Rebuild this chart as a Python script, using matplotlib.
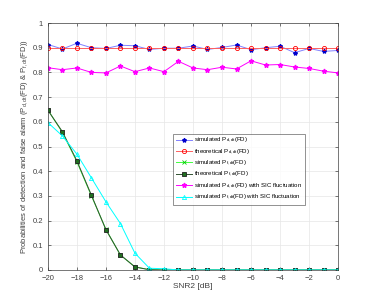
import numpy as np
import matplotlib
matplotlib.use('Agg')
import matplotlib.pyplot as plt

snr = np.arange(-20, 1, 1)

pd_sim = [0.913, 0.895, 0.918, 0.900, 0.897, 0.910, 0.908, 0.893, 0.898, 0.898, 0.907,
          0.893, 0.901, 0.911, 0.892, 0.900, 0.906, 0.880, 0.897, 0.885, 0.889]
pd_theo = [0.9] * 21
pf_sim = [0.648, 0.557, 0.438, 0.300, 0.165, 0.060, 0.013, 0.001, 0, 0, 0,
          0, 0, 0, 0, 0, 0, 0, 0, 0, 0]
pf_theo = [0.647, 0.560, 0.442, 0.303, 0.163, 0.061, 0.012, 0.001, 0, 0, 0,
           0, 0, 0, 0, 0, 0, 0, 0, 0, 0]
pd_sic = [0.819, 0.811, 0.818, 0.800, 0.798, 0.826, 0.803, 0.818, 0.803, 0.845, 0.818,
          0.811, 0.821, 0.814, 0.847, 0.830, 0.832, 0.822, 0.816, 0.805, 0.798]
pf_sic = [0.597, 0.543, 0.469, 0.373, 0.276, 0.188, 0.068, 0.007, 0.005, 0, 0,
          0, 0, 0, 0, 0, 0, 0, 0, 0, 0]

labels = ['simulated P$_{d,dt}$(FD)',
          'theoretical P$_{d,dt}$(FD)',
          'simulated P$_{f,dt}$(FD)',
          'theoretical P$_{f,dt}$(FD)',
          'simulated P$_{d,dt}$(FD) with SIC fluctuation',
          'simulated P$_{f,dt}$(FD) with SIC fluctuation']

plt.rcParams['font.family'] = ['Liberation Sans', 'DejaVu Sans']
plt.rcParams['mathtext.fontset'] = 'custom'
plt.rcParams['mathtext.rm'] = 'Liberation Sans'
plt.rcParams['mathtext.it'] = 'Liberation Sans'

fig = plt.figure(figsize=(3.74, 3.03), dpi=100)
ax = fig.add_axes([0.128, 0.109, 0.776, 0.815])

lw = 0.7
ms = 3
ax.plot(snr, pd_sim, color='#8080ff', lw=lw, marker='*', ms=ms,
        mec='#0000cc', mfc='#0000cc', label=labels[0])
ax.plot(snr, pd_theo, color='#ff6060', lw=lw, marker='o', ms=ms,
        mec='red', mfc='none', mew=0.6, label=labels[1])
ax.plot(snr, pf_sim, color='#40ff40', lw=lw, marker='x', ms=ms,
        mec='#00cc00', mew=0.6, label=labels[2])
ax.plot(snr, pf_theo, color='#305030', lw=lw, marker='s', ms=2.5,
        mec='#202020', mfc='#207020', mew=0.6, label=labels[3])
ax.plot(snr, pd_sic, color='magenta', lw=lw, marker='*', ms=ms + 0.5,
        label=labels[4])
ax.plot(snr, pf_sic, color='cyan', lw=lw, marker='^', ms=ms,
        mfc='none', mew=0.6, label=labels[5])

ax.set_xlim(-20, 0)
ax.set_ylim(0, 1)
ax.set_xticks(np.arange(-20, 1, 2))
ax.set_yticks(np.arange(0, 1.01, 0.1))
ax.set_yticklabels(['0', '0.1', '0.2', '0.3', '0.4', '0.5', '0.6', '0.7', '0.8', '0.9', '1'])
ax.grid(True, color='#e6e6e6', lw=0.5)
ax.set_axisbelow(True)
ax.tick_params(labelsize=5.5, colors='#404040', direction='in', length=2, width=0.5,
               top=True, right=True)
for s in ax.spines.values():
    s.set_color('#404040')
    s.set_linewidth(0.5)

ax.set_xlabel('SNR2 [dB]', fontsize=6, color='#404040', labelpad=1)
ax.set_ylabel('Probabilities of detection and false alarm (P$_{d,dt}$(FD) & P$_{f,dt}$(FD))',
              fontsize=5.5, color='#404040', labelpad=2)

leg = ax.legend(loc='upper left', bbox_to_anchor=(0.422, 0.565), fontsize=4.4,
                frameon=True, fancybox=False, edgecolor='#404040',
                handlelength=2.6, borderpad=0.4, labelspacing=0.38, handletextpad=0.4)
leg.get_frame().set_linewidth(0.5)

fig.savefig('out.png', dpi=100)
